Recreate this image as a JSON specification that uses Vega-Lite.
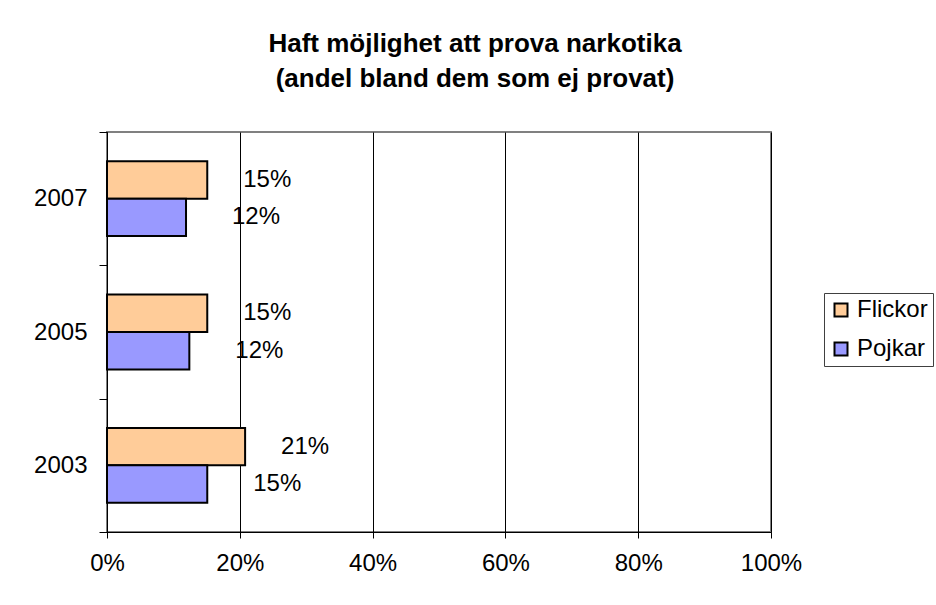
{
  "$schema": "https://vega.github.io/schema/vega-lite/v6.json",
  "autosize": "none",
  "padding": {"left": 107, "top": 132, "right": 165, "bottom": 73},
  "width": 664,
  "height": 400,
  "background": "white",
  "title": {
    "text": ["Haft möjlighet att prova narkotika", "(andel bland dem som ej provat)"],
    "fontSize": 26,
    "fontWeight": "bold",
    "font": "Liberation Sans",
    "color": "black",
    "anchor": "middle",
    "dx": 36,
    "lineHeight": 35,
    "offset": 28
  },
  "data": {
    "values": [
      {"year": "2007", "series": "Flickor", "value": 0.151},
      {"year": "2007", "series": "Pojkar", "value": 0.119},
      {"year": "2005", "series": "Flickor", "value": 0.151},
      {"year": "2005", "series": "Pojkar", "value": 0.124},
      {"year": "2003", "series": "Flickor", "value": 0.208},
      {"year": "2003", "series": "Pojkar", "value": 0.151}
    ]
  },
  "encoding": {
    "y": {
      "field": "year",
      "type": "nominal",
      "sort": ["2007", "2005", "2003"],
      "scale": {"paddingInner": 0, "paddingOuter": 0},
      "axis": {
        "title": null,
        "labelFontSize": 24,
        "labelColor": "black",
        "labelPadding": 12,
        "tickSize": 8,
        "tickBand": "extent",
        "domainColor": "black",
        "tickColor": "black",
        "grid": false
      }
    },
    "yOffset": {
      "field": "series",
      "type": "nominal",
      "sort": ["Flickor", "Pojkar"],
      "scale": {"domain": ["Flickor", "Pojkar"], "paddingInner": 0, "paddingOuter": 0.78}
    },
    "x": {
      "field": "value",
      "type": "quantitative",
      "scale": {"domain": [0, 1], "nice": false},
      "axis": {
        "title": null,
        "format": ".0%",
        "values": [0, 0.2, 0.4, 0.6, 0.8, 1],
        "labelFontSize": 24,
        "labelColor": "black",
        "labelPadding": 13,
        "labelFlush": false,
        "tickSize": 6,
        "domainColor": "black",
        "tickColor": "black",
        "grid": true,
        "gridColor": "black",
        "gridOpacity": 1,
        "gridWidth": 1
      }
    }
  },
  "layer": [
    {
      "mark": {"type": "bar", "stroke": "black", "strokeWidth": 2},
      "encoding": {
        "color": {
          "field": "series",
          "type": "nominal",
          "sort": ["Flickor", "Pojkar"],
          "scale": {"domain": ["Flickor", "Pojkar"], "range": ["#FFCC99", "#9999FF"]},
          "legend": {
            "title": null,
            "orient": "none",
            "legendX": 717,
            "legendY": 161,
            "labelFontSize": 24,
            "labelColor": "black",
            "symbolType": "square",
            "symbolSize": 169,
            "symbolStrokeColor": "black",
            "symbolStrokeWidth": 2,
            "symbolOpacity": 1,
            "rowPadding": 15,
            "padding": 5,
            "strokeColor": "#404040",
            "labelOffset": 4
          }
        }
      }
    },
    {
      "transform": [{"filter": "datum.series === 'Flickor'"}],
      "mark": {"type": "text", "align": "left", "baseline": "middle", "dx": 36, "fontSize": 24, "color": "black"},
      "encoding": {
        "text": {"field": "value", "type": "quantitative", "format": ".0%"}
      }
    },
    {
      "transform": [{"filter": "datum.series === 'Pojkar'"}],
      "mark": {"type": "text", "align": "left", "baseline": "middle", "dx": 46, "fontSize": 24, "color": "black"},
      "encoding": {
        "text": {"field": "value", "type": "quantitative", "format": ".0%"}
      }
    }
  ],
  "config": {
    "font": "Liberation Sans",
    "view": {"stroke": "#808080", "strokeWidth": 2},
    "axis": {"labelFont": "Liberation Sans"},
    "legend": {"labelFont": "Liberation Sans"}
  }
}
